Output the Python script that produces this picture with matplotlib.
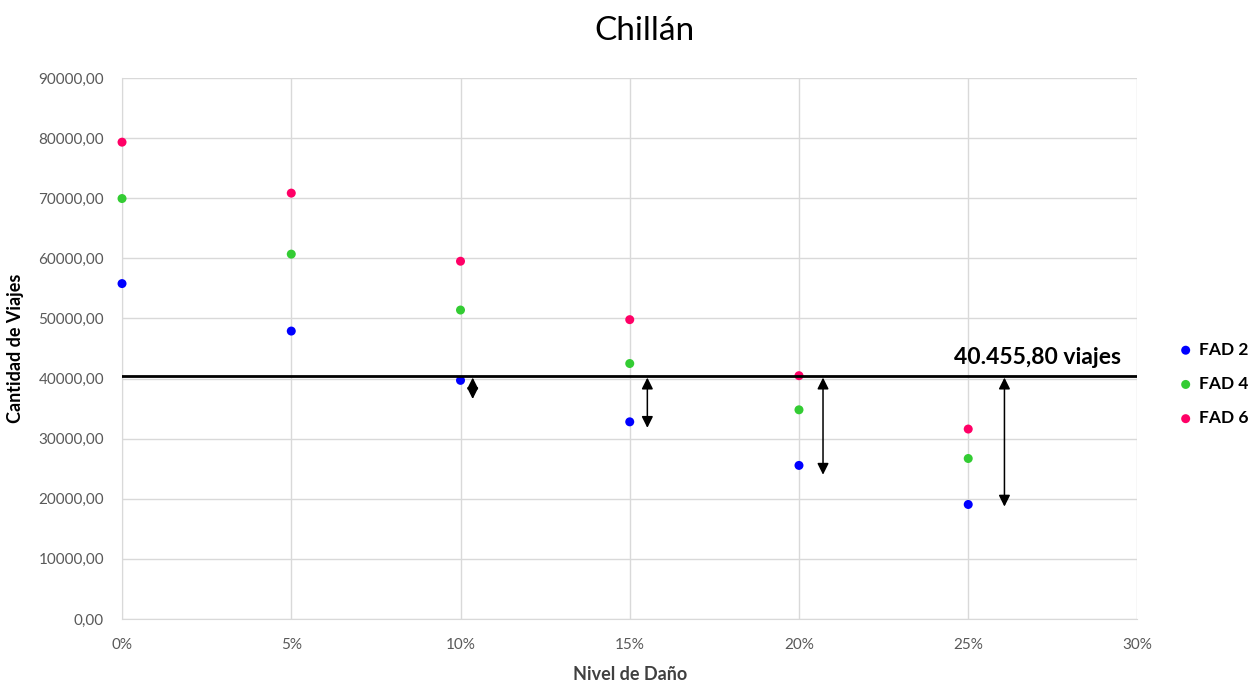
import matplotlib
matplotlib.use("Agg")
import matplotlib.pyplot as plt
from matplotlib.ticker import FuncFormatter, MultipleLocator

plt.rcParams['font.family'] = ['Lato', 'DejaVu Sans']

# Damage level (fraction) and trips per design-loading factor
damage = [0.00, 0.05, 0.10, 0.15, 0.20, 0.25]
fad2 = [55800, 47900, 39700, 32800, 25550, 19050]
fad4 = [69950, 60700, 51400, 42500, 34800, 26700]
fad6 = [79330, 70850, 59520, 49800, 40480, 31600]
series_names = ["FAD 2", "FAD 4", "FAD 6"]
series_colors = ["#0000FF", "#33CC33", "#FF0066"]
target_trips = 40455.80
target_label = "40.455,80 viajes"

# Gap arrows drawn beside the damaged levels (lower end of each arrow)
gap_levels = [0.10, 0.15, 0.20, 0.25]
gap_bottoms = [36600, 31800, 24000, 18700]

fig = plt.figure(figsize=(12.49, 6.82), dpi=100)
ax = fig.add_axes([0.0977, 0.0924, 0.8130, 0.7932])

for vals, name, col in zip([fad2, fad4, fad6], series_names, series_colors):
    ax.scatter(damage, vals, s=42, color=col, label=name, zorder=3,
               edgecolors='none', clip_on=False)

ax.axhline(target_trips, color='black', lw=2.0, zorder=4)
ax.text(0.295, target_trips + 1300, target_label, ha='right', va='bottom',
        fontsize=16.5, fontweight='bold')

arrow_shift = [0.0036, 0.0052, 0.0071, 0.0107]
for d, bottom, dx in zip(gap_levels, gap_bottoms, arrow_shift):
    ax.annotate("", xy=(d + dx, bottom), xytext=(d + dx, target_trips - 300),
                arrowprops=dict(arrowstyle='<|-|>', color='black', lw=1.1,
                                mutation_scale=17, shrinkA=0, shrinkB=0),
                zorder=5)

ax.set_xlim(0, 0.30)
ax.set_ylim(0, 90000)
ax.xaxis.set_major_locator(MultipleLocator(0.05))
ax.yaxis.set_major_locator(MultipleLocator(10000))
ax.xaxis.set_major_formatter(FuncFormatter(lambda x, p: f"{x*100:.0f}%"))
ax.yaxis.set_major_formatter(FuncFormatter(lambda y, p: f"{y:.2f}".replace('.', ',')))

ax.grid(True, color='#D9D9D9', lw=1.0)
ax.set_axisbelow(True)
for s in ['top', 'right']:
    ax.spines[s].set_visible(False)
for s in ['left', 'bottom']:
    ax.spines[s].set_color('#D9D9D9')
ax.tick_params(length=0, labelsize=11, labelcolor='#595959')
ax.tick_params(axis='y', pad=13)
ax.tick_params(axis='x', pad=14)

ax.set_xlabel("Nivel de Daño", fontsize=13, fontweight='bold', color='#404040', labelpad=10)
ax.set_ylabel("Cantidad de Viajes", fontsize=13, fontweight='bold', color='black', labelpad=10)
fig.text(0.516, 0.955, "Chillán", fontsize=24, ha='center', va='center')

leg = fig.legend(loc='center left', bbox_to_anchor=(1177 / 1249, 1 - 384 / 682),
                 frameon=False, fontsize=12.5, handletextpad=0.25, labelspacing=1.05,
                 handlelength=1.0, borderpad=0, borderaxespad=0)
for t in leg.get_texts():
    t.set_fontweight('bold')

fig.savefig("out.png", dpi=100)
